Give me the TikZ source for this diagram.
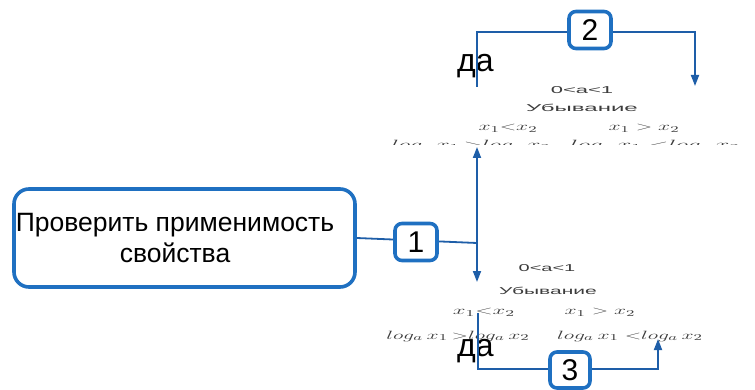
\documentclass[tikz,border=0pt]{standalone}
\usepackage{fontspec}
\usepackage{graphicx}
\setmainfont{Liberation Sans}
\usetikzlibrary{arrows.meta}
\definecolor{linkblue}{RGB}{30,94,168}
\definecolor{boxblue}{RGB}{31,112,193}
\definecolor{softgray}{RGB}{60,60,60}

\begin{document}
\begin{tikzpicture}[x=1pt,y=-1pt,
  conn/.style={draw=linkblue, line width=1.8pt},
  tipend/.style={-{Triangle[width=8pt,length=11pt]}},
  numbox/.style={draw=boxblue, line width=3.6pt, rounded corners=7pt, fill=white,
    minimum width=42pt, minimum height=37pt, inner sep=0pt,
    font=\fontsize{30}{30}\selectfont},
  bigbox/.style={draw=boxblue, line width=3.6pt, rounded corners=15pt,
    minimum width=341pt, minimum height=98pt, inner sep=0pt},
  bigtext/.style={align=center, inner sep=0pt, font=\fontsize{26.5}{31}\selectfont},
  yeslabel/.style={anchor=base west, inner sep=0pt, font=\fontsize{32}{32}\selectfont},
  smallsans/.style={inner sep=0pt, text=softgray, font=\fontsize{10}{10}\selectfont},
  smallmath/.style={inner sep=0pt, text=softgray, font=\fontsize{13}{13}\selectfont}
]
\useasboundingbox (0,0) rectangle (755,390);

% main box
\node[bigbox] (check) at (184.5,238) {};
\node[bigtext] (checktext) at (175,238) {Проверить применимость\\свойства};

% upper block of conditions
\node[smallsans] (tcond) at (582,90) {\scalebox{2.2}[1]{0<a<1}};
\node[smallsans] (tdec) at (582,108) {\scalebox{2.4}[1]{Убывание}};
\node[smallmath] (tx1) at (508,128) {\scalebox{1.8}[1]{$x_1{<}x_2$}};
\node[smallmath] (tx2) at (644,128) {\scalebox{1.8}[1]{$x_1\;{>}\;x_2$}};
\begin{scope}
  \clip (0,0) rectangle (755,145);
  \node[smallmath] (tl1) at (471,146) {\scalebox{2}[1]{$log_a\,x_1\,{>}log_a\,x_2$}};
  \node[smallmath, anchor=west] (tl2) at (570,146) {\scalebox{2.1}[1]{$log_a\,x_1\;{<}log_a\,x_2$}};
\end{scope}

% lower block of conditions
\node[smallsans] (bcond) at (547,268) {\scalebox{2}[1]{0<a<1}};
\node[smallsans] (bdec) at (548,291) {\scalebox{2.1}[1]{Убывание}};
\node[smallmath] (bx1) at (484,312) {\scalebox{1.9}[1]{$x_1{<}x_2$}};
\node[smallmath] (bx2) at (600,312) {\scalebox{1.8}[1]{$x_1\;{>}\;x_2$}};
\node[smallmath] (bl1) at (458,336) {\scalebox{1.8}[1]{$log_a\,x_1\,{>}log_a\,x_2$}};
\node[smallmath] (bl2) at (630,336) {\scalebox{1.8}[1]{$log_a\,x_1\;{<}log_a\,x_2$}};

% "да" labels
\node[yeslabel] (yestop) at (457,72) {да};
\node[yeslabel] (yesbot) at (457,356) {да};

% connector points
\coordinate (vtop) at (477,147);
\coordinate (vbot) at (477,282);
\coordinate (vmid) at (477,243);
\coordinate (ts) at (477,87);
\coordinate (tl) at (477,32);
\coordinate (tr) at (695,32);
\coordinate (te) at (695,86);
\coordinate (bs) at (478,313);
\coordinate (bl) at (478,369);
\coordinate (br) at (658,369);
\coordinate (be) at (658,339);

% connectors
\draw[conn] (check.east) -- (vmid);
\draw[conn, {Triangle[width=8pt,length=11pt]}-{Triangle[width=8pt,length=11pt]}] (vtop) -- (vbot);
\draw[conn, tipend] (ts) -- (tl) -- (tr) -- (te);
\draw[conn, tipend] (bs) -- (bl) -- (br) -- (be);

% numbered tags
\node[numbox] (n1) at (416,242) {1};
\node[numbox] (n2) at (590,30) {2};
\node[numbox, minimum width=40pt, minimum height=36pt] (n3) at (570,370) {3};
\end{tikzpicture}
\end{document}
